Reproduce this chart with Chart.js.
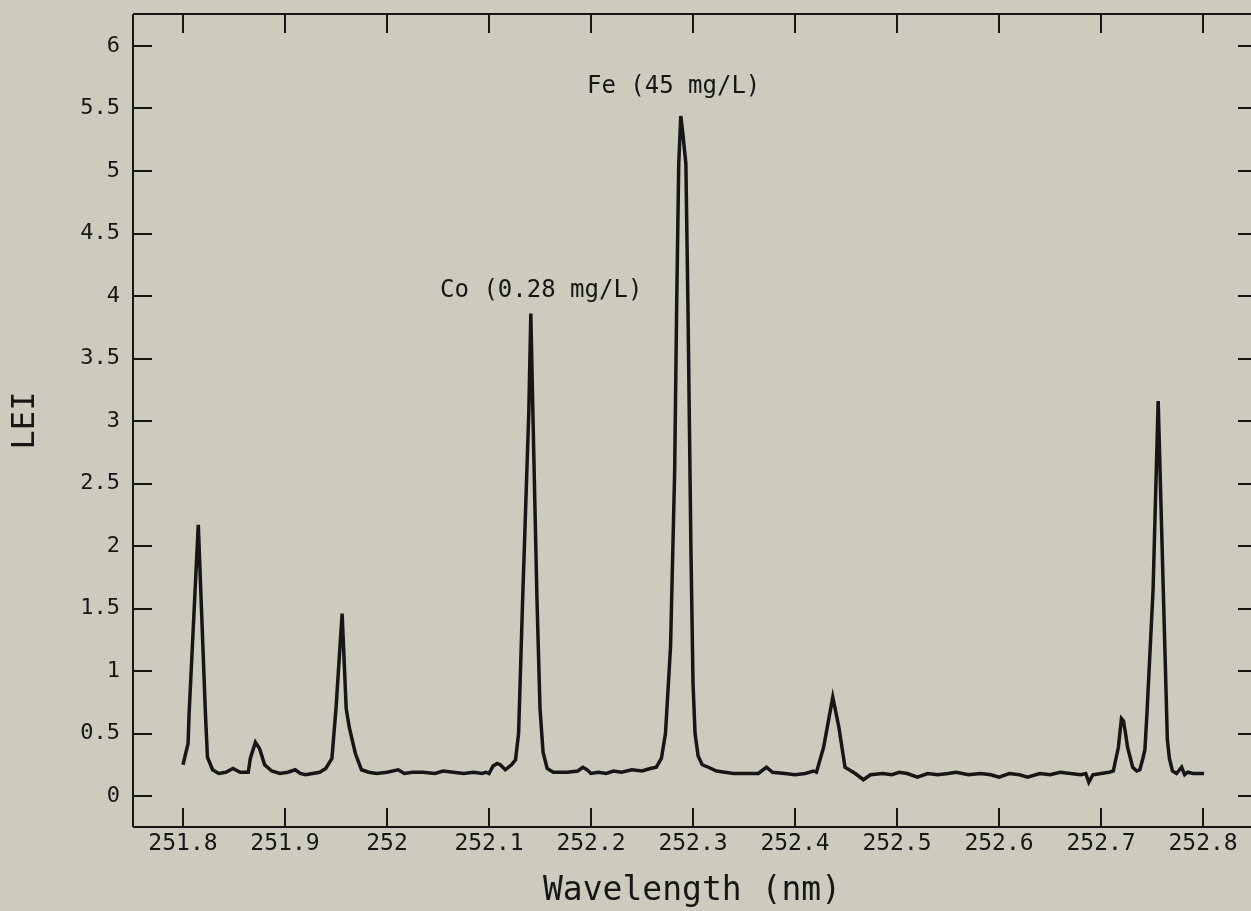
<!DOCTYPE html>
<html>
<head>
<meta charset="utf-8">
<script src="https://cdn.jsdelivr.net/npm/chart.js@4/dist/chart.umd.min.js"></script>
<style>
  body { margin: 0; background: #cdcabe; }
  canvas { display: block; }
</style>
</head>
<body>
<canvas id="leiChart" width="1251" height="911"></canvas>
<script>
// spectrum (wavelength in nm, LEI signal)
var wavelength = [
  251.800, 251.805, 251.806, 251.815, 251.822, 251.824, 251.829, 251.835, 251.842, 251.849,
  251.856, 251.864, 251.866, 251.871, 251.875, 251.877, 251.880, 251.887, 251.895, 251.903,
  251.910, 251.915, 251.920, 251.927, 251.934, 251.940, 251.946, 251.950, 251.956, 251.960,
  251.963, 251.969, 251.975, 251.982, 251.990, 252.000, 252.011, 252.017, 252.025, 252.035,
  252.047, 252.055, 252.065, 252.075, 252.085, 252.093, 252.097, 252.100, 252.104, 252.108,
  252.111, 252.116, 252.122, 252.126, 252.129, 252.133, 252.139, 252.141, 252.143, 252.147,
  252.150, 252.153, 252.157, 252.163, 252.170, 252.177, 252.187, 252.192, 252.196, 252.200,
  252.207, 252.215, 252.222, 252.230, 252.240, 252.250, 252.258, 252.264, 252.269, 252.273,
  252.278, 252.282, 252.284, 252.286, 252.288, 252.290, 252.293, 252.295, 252.298, 252.300,
  252.302, 252.305, 252.309, 252.315, 252.323, 252.331, 252.340, 252.350, 252.364, 252.372,
  252.378, 252.390, 252.400, 252.410, 252.418, 252.421, 252.428, 252.437, 252.443, 252.449,
  252.459, 252.467, 252.474, 252.486, 252.495, 252.502, 252.510, 252.520, 252.530, 252.540,
  252.550, 252.558, 252.570, 252.582, 252.592, 252.600, 252.610, 252.620, 252.628, 252.640,
  252.650, 252.660, 252.670, 252.680, 252.685, 252.688, 252.692, 252.700, 252.708, 252.712,
  252.717, 252.720, 252.722, 252.724, 252.726, 252.731, 252.735, 252.738, 252.741, 252.743,
  252.745, 252.751, 252.756, 252.761, 252.765, 252.767, 252.770, 252.774, 252.779, 252.782,
  252.785, 252.790, 252.801
];
var lei = [
  0.25, 0.42, 0.66, 2.17, 0.66, 0.31, 0.21, 0.18, 0.19, 0.22,
  0.19, 0.19, 0.30, 0.43, 0.38, 0.33, 0.25, 0.20, 0.18, 0.19,
  0.21, 0.18, 0.17, 0.18, 0.19, 0.22, 0.30, 0.70, 1.46, 0.70,
  0.55, 0.34, 0.21, 0.19, 0.18, 0.19, 0.21, 0.18, 0.19, 0.19,
  0.18, 0.20, 0.19, 0.18, 0.19, 0.18, 0.19, 0.18, 0.24, 0.26,
  0.25, 0.21, 0.25, 0.29, 0.50, 1.58, 3.07, 3.86, 3.07, 1.58,
  0.70, 0.35, 0.22, 0.19, 0.19, 0.19, 0.20, 0.23, 0.21, 0.18,
  0.19, 0.18, 0.20, 0.19, 0.21, 0.20, 0.22, 0.23, 0.30, 0.50,
  1.20, 2.60, 3.94, 5.06, 5.44, 5.30, 5.06, 3.94, 1.95, 0.90,
  0.50, 0.32, 0.25, 0.23, 0.20, 0.19, 0.18, 0.18, 0.18, 0.23,
  0.19, 0.18, 0.17, 0.18, 0.20, 0.19, 0.39, 0.79, 0.55, 0.23,
  0.18, 0.13, 0.17, 0.18, 0.17, 0.19, 0.18, 0.15, 0.18, 0.17,
  0.18, 0.19, 0.17, 0.18, 0.17, 0.15, 0.18, 0.17, 0.15, 0.18,
  0.17, 0.19, 0.18, 0.17, 0.18, 0.11, 0.17, 0.18, 0.19, 0.20,
  0.39, 0.62, 0.60, 0.50, 0.39, 0.23, 0.20, 0.21, 0.30, 0.37,
  0.66, 1.65, 3.16, 1.65, 0.45, 0.30, 0.20, 0.18, 0.23, 0.17,
  0.19, 0.18, 0.18
];

var xTickValues = [251.8, 251.9, 252.0, 252.1, 252.2, 252.3, 252.4, 252.5, 252.6, 252.7, 252.8];
var yTickValues = [0, 0.5, 1, 1.5, 2, 2.5, 3, 3.5, 4, 4.5, 5, 5.5, 6];

var peakLabels = ['Fe (45 mg/L)', 'Co (0.28 mg/L)'];
var peakLabelX = [252.196, 252.052];
var peakLabelY = [5.67, 4.04];

var ink = '#161616';
var mono = "'DejaVu Sans Mono', monospace";

var points = wavelength.map(function(w, i){ return {x: w, y: lei[i]}; });

// frame with inward ticks on all four sides, plus peak labels
var framePlugin = {
  id: 'frame',
  beforeDraw: function(chart){
    var ctx = chart.ctx;
    ctx.save();
    ctx.fillStyle = '#cdcabe';
    ctx.fillRect(0, 0, chart.width, chart.height);
    ctx.restore();
  },
  afterDraw: function(chart){
    var ctx = chart.ctx;
    var a = chart.chartArea;
    var xs = chart.scales.x, ys = chart.scales.y;
    ctx.save();
    ctx.strokeStyle = ink;
    ctx.lineWidth = 2;
    ctx.beginPath();
    ctx.moveTo(a.left, a.top); ctx.lineTo(a.left, a.bottom);
    ctx.moveTo(a.left, a.bottom); ctx.lineTo(a.right, a.bottom);
    ctx.moveTo(a.left, a.top); ctx.lineTo(a.right, a.top);
    xTickValues.forEach(function(v){
      var px = Math.round(xs.getPixelForValue(v));
      ctx.moveTo(px, a.bottom); ctx.lineTo(px, a.bottom - 19);
      ctx.moveTo(px, a.top); ctx.lineTo(px, a.top + 19);
    });
    yTickValues.forEach(function(v){
      var py = Math.round(ys.getPixelForValue(v));
      ctx.moveTo(a.left, py); ctx.lineTo(a.left + 19, py);
      ctx.moveTo(a.right, py); ctx.lineTo(a.right - 13, py);
    });
    ctx.stroke();

    ctx.fillStyle = ink;
    ctx.font = '24px ' + mono;
    ctx.textAlign = 'left';
    ctx.textBaseline = 'middle';
    peakLabels.forEach(function(t, i){
      ctx.fillText(t, xs.getPixelForValue(peakLabelX[i]), ys.getPixelForValue(peakLabelY[i]));
    });
    ctx.restore();
  }
};

new Chart(document.getElementById('leiChart').getContext('2d'), {
  type: 'line',
  data: {
    datasets: [{
      data: points,
      borderColor: ink,
      borderWidth: 3.5,
      pointRadius: 0,
      tension: 0,
      fill: false
    }]
  },
  options: {
    responsive: false,
    animation: false,
    devicePixelRatio: 1,
    layout: {padding: {top: 14, left: 0, right: 0, bottom: 0}},
    plugins: {legend: {display: false}, tooltip: {enabled: false}},
    scales: {
      x: {
        type: 'linear',
        min: 251.751,
        max: 252.847,
        afterBuildTicks: function(s){ s.ticks = xTickValues.map(function(v){ return {value: v}; }); },
        afterFit: function(s){ s.height = 84; s.paddingLeft = 0; s.paddingRight = 0; },
        grid: {display: false, drawTicks: false},
        border: {display: false},
        ticks: {
          autoSkip: false,
          maxRotation: 0,
          padding: 3,
          color: ink,
          font: {family: mono, size: 23},
          callback: function(v){ return String(Number(v.toFixed(1))); }
        },
        title: {
          display: true,
          text: 'Wavelength (nm)',
          color: ink,
          padding: 0,
          font: {family: mono, size: 33, lineHeight: 1.2}
        }
      },
      y: {
        min: -0.248,
        max: 6.256,
        afterBuildTicks: function(s){ s.ticks = yTickValues.map(function(v){ return {value: v}; }); },
        afterFit: function(s){ s.width = 133; s.paddingTop = 0; s.paddingBottom = 0; },
        grid: {display: false, drawTicks: false},
        border: {display: false},
        ticks: {
          padding: 13,
          color: ink,
          font: {family: mono, size: 22},
          callback: function(v){ return String(v); }
        },
        title: {
          display: true,
          text: 'LEI',
          color: ink,
          padding: {top: 6, bottom: 0},
          font: {family: mono, size: 32, lineHeight: 1.2}
        }
      }
    }
  },
  plugins: [framePlugin]
});
</script>
</body>
</html>
